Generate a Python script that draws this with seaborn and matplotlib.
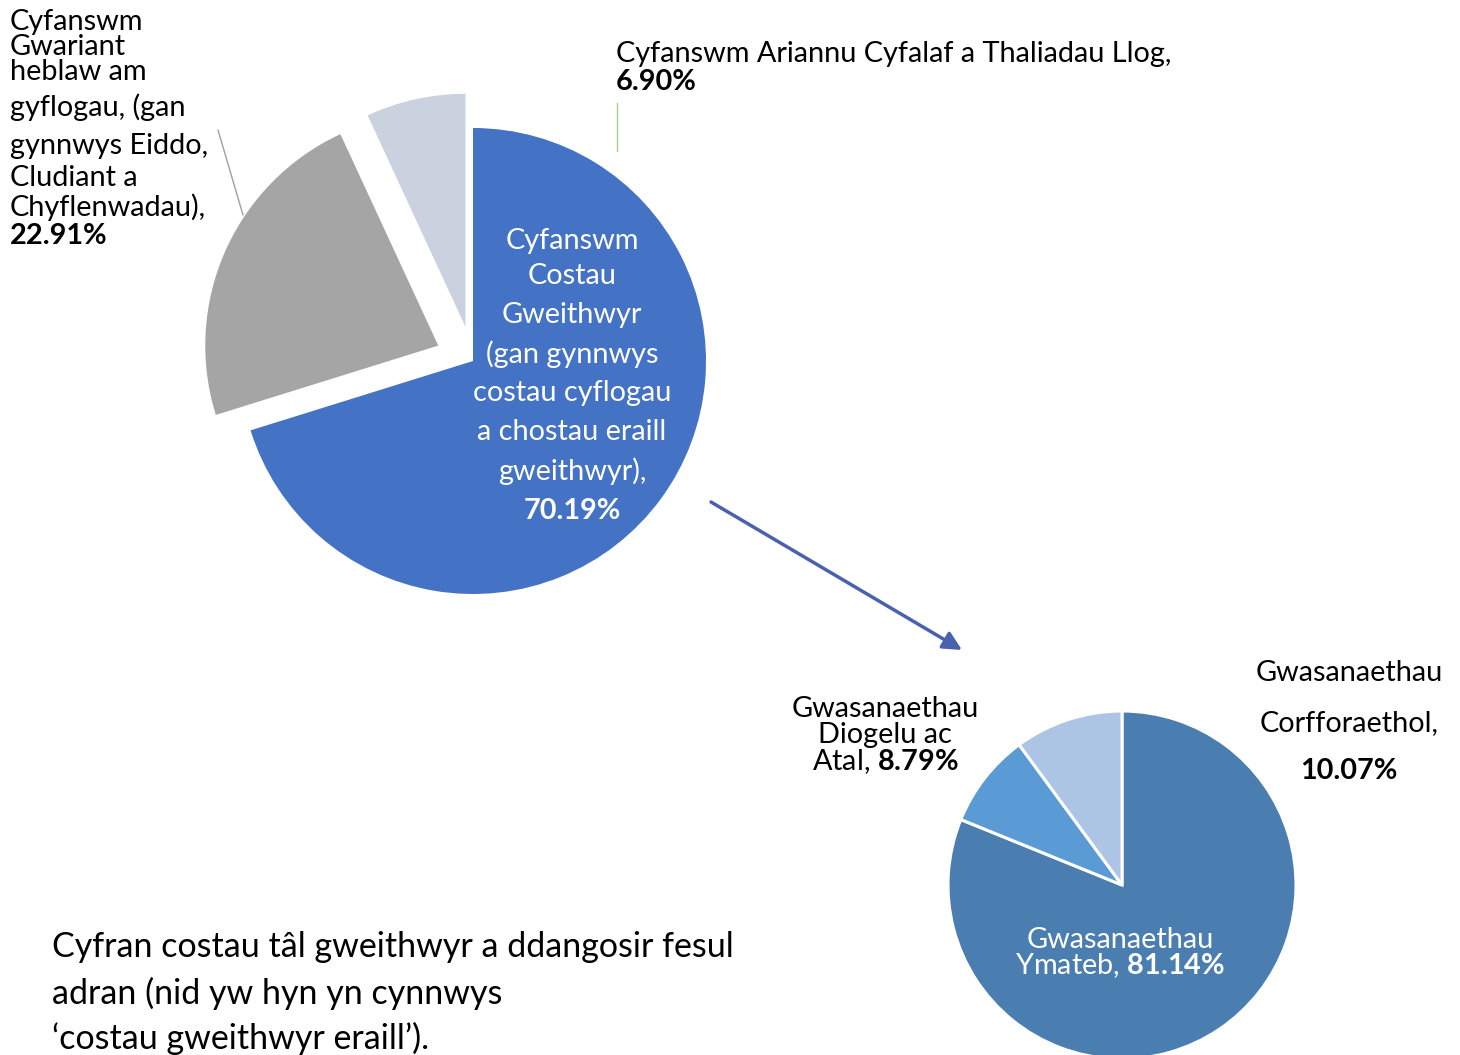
import seaborn as sns
import matplotlib.pyplot as plt

# data
main_labels = ["Cyfanswm Costau Gweithwyr", "Cyfanswm Gwariant heblaw am gyflogau",
               "Cyfanswm Ariannu Cyfalaf a Thaliadau Llog"]
main_values = [70.19, 22.91, 6.90]
main_colors = ["#4472C4", "#A5A5A5", "#CBD2DF"]

sub_labels = ["Gwasanaethau Ymateb", "Gwasanaethau Diogelu ac Atal", "Gwasanaethau Corfforaethol"]
sub_values = [81.14, 8.79, 10.07]
sub_colors = ["#4A7EB0", "#5B9BD5", "#ADC5E5"]

note_lines = ["Cyfran costau tâl gweithwyr a ddangosir fesul",
              "adran (nid yw hyn yn cynnwys",
              "‘costau gweithwyr eraill’)."]

sns.set_theme(style="white")
plt.rcParams['font.family'] = ['Lato', 'DejaVu Sans']
plt.rcParams['mathtext.fontset'] = 'custom'
plt.rcParams['mathtext.rm'] = 'Lato'
plt.rcParams['mathtext.bf'] = 'Lato:bold'

W, H = 1460, 1055
def Y(p):
    return H - p

fig = plt.figure(figsize=(14.6, 10.55), dpi=100)
ax = fig.add_axes([0, 0, 1, 1])

# main pie (pixel units)
ax.pie(main_values, colors=sns.color_palette(main_colors), startangle=90, counterclock=False,
       center=(473, Y(361)), radius=233, explode=[0, 38, 35],
       wedgeprops=dict(linewidth=0))

# breakdown pie
ax.pie(sub_values, colors=sns.color_palette(sub_colors), startangle=90, counterclock=False,
       center=(1122, Y(885)), radius=174,
       wedgeprops=dict(edgecolor="white", linewidth=2.2))

ax.set_xlim(0, W)
ax.set_ylim(0, H)
ax.set_aspect('equal')
ax.axis('off')

fs = 20.8
k = dict(fontsize=fs, color="black", va="center")

# label for grey slice
left_lines = ["Cyfanswm", "Gwariant", "heblaw am", "gyflogau, (gan", "gynnwys Eiddo,",
              "Cludiant a", "Chyflenwadau),"]
for txt, yy in zip(left_lines, [22, 47, 72, 107, 146, 178, 207]):
    ax.text(10, Y(yy), txt, ha="left", **k)
ax.text(10, Y(236), f"{main_values[1]:.2f}%", ha="left", fontweight="bold", **k)
ax.plot([218, 243], [Y(130), Y(215)], color="#A0A0A0", lw=1)

# label for light grey slice
ax.text(616, Y(54), main_labels[2] + ",", ha="left", **k)
ax.text(616, Y(82), f"{main_values[2]:.2f}%", ha="left", fontweight="bold", **k)
ax.plot([617, 617], [Y(103), Y(151)], color="#A9D18E", lw=1)

# label inside blue slice
blue_lines = ["Cyfanswm", "Costau", "Gweithwyr", "(gan gynnwys", "costau cyflogau",
              "a chostau eraill", "gweithwyr),"]
for txt, yy in zip(blue_lines, [241, 276, 315, 354, 393, 432, 471]):
    ax.text(572, Y(yy), txt, ha="center", fontsize=fs, color="white", va="center")
ax.text(572, Y(511), f"{main_values[0]:.2f}%", ha="center", fontsize=fs, color="white",
        va="center", fontweight="bold")

# arrow from main pie to breakdown
ax.annotate("", xy=(962, Y(650)), xytext=(711, Y(502)),
            arrowprops=dict(arrowstyle="-|>", color="#4A62AD", lw=2.5,
                            mutation_scale=28, shrinkA=0, shrinkB=0))

# breakdown labels
ax.text(885, Y(709), "Gwasanaethau", ha="center", **k)
ax.text(885, Y(735), "Diogelu ac", ha="center", **k)
ax.text(885, Y(762), r"Atal, $\mathbf{" + f"{sub_values[1]:.2f}" + r"\%}$", ha="center", **k)

ax.text(1349, Y(673), "Gwasanaethau", ha="center", **k)
ax.text(1349, Y(723), "Corfforaethol,", ha="center", **k)
ax.text(1349, Y(771), f"{sub_values[2]:.2f}%", ha="center", fontweight="bold", **k)

ax.text(1120, Y(940), "Gwasanaethau", ha="center", fontsize=fs, color="white", va="center")
ax.text(1120, Y(966), r"Ymateb, $\mathbf{" + f"{sub_values[0]:.2f}" + r"\%}$", ha="center",
        fontsize=fs, color="white", va="center")

# note
for txt, yy in zip(note_lines, [947, 993, 1038]):
    ax.text(52, Y(yy), txt, ha="left", fontsize=24.5, color="black", va="center")

fig.savefig("out.png", dpi=100)
